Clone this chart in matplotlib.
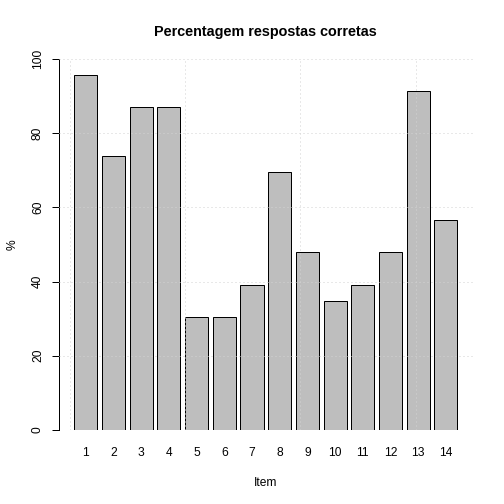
import matplotlib
matplotlib.use("Agg")
from matplotlib import pyplot as plt

plt.rcParams['font.family'] = ['Liberation Sans', 'DejaVu Sans']

# data: percentage of correct answers per item
items = [str(i) for i in range(1, 15)]
percent = [95.65, 73.91, 86.96, 86.96, 30.43, 30.43, 39.13,
           69.57, 47.83, 34.78, 39.13, 47.83, 91.30, 56.52]
y_ticks = [0, 20, 40, 60, 80, 100]
x_grid = [0, 5, 10, 15]

# R barplot layout: width 1, space 0.2
positions = [0.7 + 1.2 * i for i in range(len(percent))]

fig = plt.figure(figsize=(7, 7), dpi=72)
ax = fig.add_axes([0.117, 0.147, 0.821, 0.736])

ax.bar(positions, percent, width=1.0, color='#BEBEBE',
       edgecolor='black', linewidth=1.0, zorder=1)

# grid drawn on top of the bars, like R's grid()
for y in y_ticks:
    ax.axhline(y, color='#D3D3D3', linewidth=1.0, dashes=(1, 3), zorder=3)
for x in x_grid:
    ax.axvline(x, color='#D3D3D3', linewidth=1.0, dashes=(1, 3), zorder=3)

ax.set_xlim(-0.464, 17.464)
ax.set_ylim(0, 100)

ax.set_xticks(positions)
ax.set_xticklabels(items)
ax.tick_params(axis='x', length=0, pad=17, labelsize=12)

ax.set_yticks(y_ticks)
ax.tick_params(axis='y', length=7, width=1, pad=8, labelsize=12,
               labelrotation=90)
for lab in ax.get_yticklabels():
    lab.set_verticalalignment('center')

for side in ['top', 'right', 'bottom']:
    ax.spines[side].set_visible(False)
ax.spines['left'].set_linewidth(1.0)

ax.set_title('Percentagem respostas corretas', fontsize=14.4,
             fontweight='bold', pad=23)
ax.set_xlabel('Item', fontsize=12, labelpad=18)
ax.set_ylabel('%', fontsize=12, labelpad=13)

fig.savefig('out.png', dpi=72)
